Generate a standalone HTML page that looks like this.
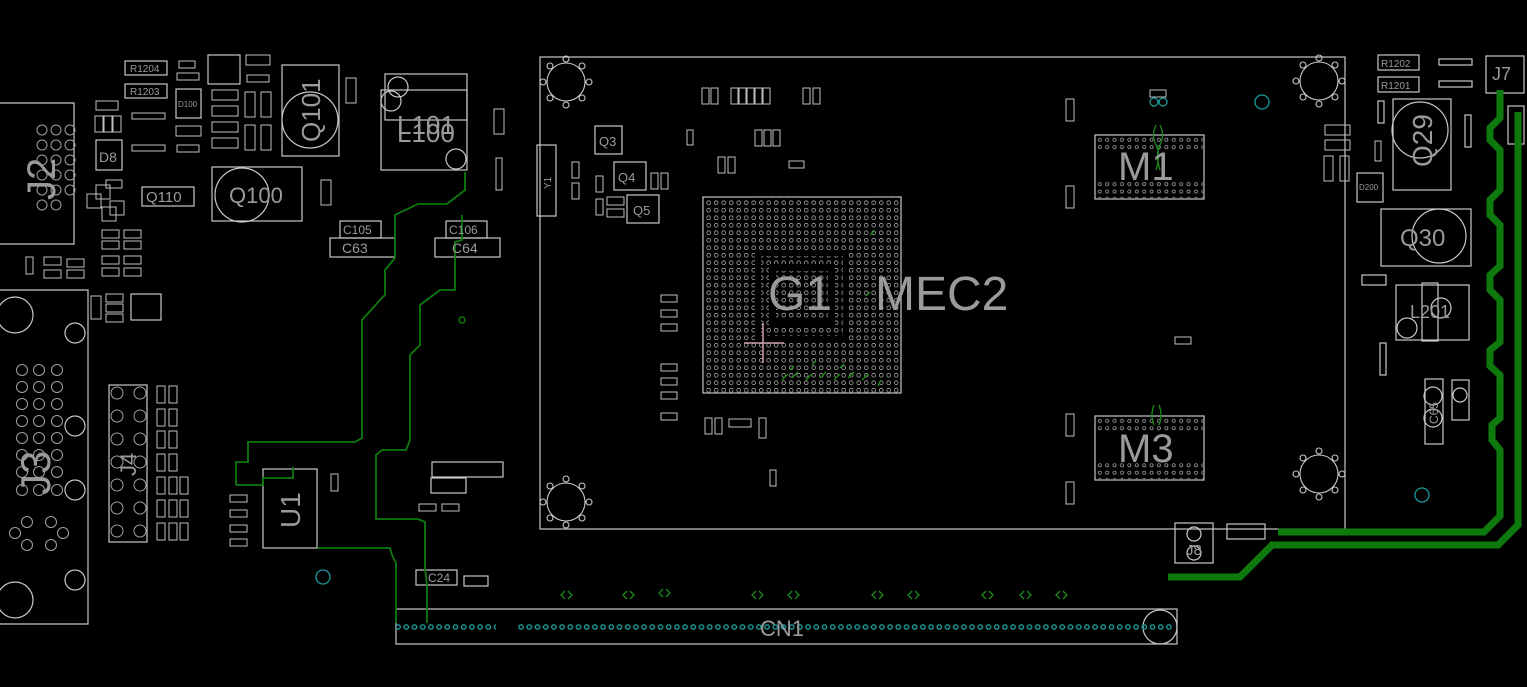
<!DOCTYPE html>
<html><head><meta charset="utf-8"><style>
html,body{margin:0;padding:0;background:#000;}
svg{display:block;}
text{font-family:"Liberation Sans",sans-serif;fill:#9a9a9a;}
</style></head><body>
<svg width="1527" height="687" viewBox="0 0 1527 687" xmlns="http://www.w3.org/2000/svg">
<defs>
<pattern id="bga" x="705" y="199" width="7.5" height="7.5" patternUnits="userSpaceOnUse">
<circle cx="3.7" cy="3.7" r="1.9" fill="none" stroke="#a0a0a0" stroke-width="0.8"/></pattern>
<pattern id="mg" x="1096" y="136" width="7.4" height="7.4" patternUnits="userSpaceOnUse">
<circle cx="3.7" cy="3.7" r="1.6" fill="none" stroke="#a0a0a0" stroke-width="0.8"/></pattern>
<pattern id="cn" x="394" y="623" width="8.2" height="8" patternUnits="userSpaceOnUse">
<circle cx="4.1" cy="4" r="2.2" fill="none" stroke="#1a9a9a" stroke-width="1.4"/></pattern>
<g id="hole" fill="none" stroke="#c8c8c8" stroke-width="1.1">
<circle cx="0" cy="0" r="19"/>
<circle cx="0" cy="-23" r="3"/><circle cx="0" cy="23" r="3"/><circle cx="-23" cy="0" r="3"/><circle cx="23" cy="0" r="3"/>
<circle cx="16" cy="16" r="3"/><circle cx="-16" cy="16" r="3"/><circle cx="16" cy="-16" r="3"/><circle cx="-16" cy="-16" r="3"/>
</g>
</defs>
<rect width="1527" height="687" fill="#000"/>
<g fill="none" stroke="#c8c8c8" stroke-width="1.2">
<rect x="540" y="57" width="805" height="472"/>
<rect x="703" y="197" width="198" height="196"/>
<rect x="1095" y="135" width="109" height="64"/>
<rect x="1095" y="416" width="109" height="64"/>
<polyline points="0,103 74,103 74,244 0,244"/>
<polyline points="0,290 88,290 88,624 0,624"/>
<rect x="109" y="385" width="38" height="157"/>
<rect x="263" y="469" width="54" height="79"/>
<rect x="212" y="167" width="90" height="54"/>
<rect x="282" y="65" width="57" height="91"/>
<rect x="385" y="74" width="82" height="46"/>
<rect x="381" y="90" width="86" height="80"/>
<rect x="142" y="187" width="52" height="19"/>
<rect x="96" y="140" width="26" height="30"/>
<rect x="125" y="61" width="42" height="14"/><rect x="125" y="84" width="42" height="14"/>
<rect x="208" y="55" width="32" height="29"/>
<rect x="176" y="89" width="25" height="29"/>
<rect x="340" y="221" width="41" height="17"/><rect x="330" y="238" width="65" height="19"/>
<rect x="446" y="221" width="41" height="17"/><rect x="435" y="238" width="65" height="19"/>
<rect x="432" y="462" width="71" height="15"/><rect x="431" y="478" width="35" height="15"/>
<rect x="416" y="570" width="41" height="15"/><rect x="464" y="576" width="24" height="10"/>
<rect x="131" y="294" width="30" height="26"/>
<rect x="396" y="609" width="781" height="35"/>
<rect x="537" y="145" width="19" height="71"/>
<rect x="595" y="126" width="27" height="28"/>
<rect x="614" y="162" width="32" height="28"/>
<rect x="627" y="195" width="32" height="28"/>
<rect x="1378" y="55" width="41" height="15"/><rect x="1378" y="77" width="41" height="15"/>
<rect x="1439" y="59" width="33" height="6"/><rect x="1439" y="81" width="33" height="6"/>
<rect x="1486" y="56" width="38" height="37"/>
<rect x="1393" y="99" width="58" height="91"/>
<rect x="1508" y="106" width="16" height="38"/>
<rect x="1357" y="173" width="26" height="29"/>
<rect x="1381" y="209" width="90" height="57"/>
<rect x="1396" y="285" width="73" height="55"/><rect x="1422" y="283" width="16" height="58"/>
<rect x="1425" y="379" width="18" height="65"/><rect x="1452" y="380" width="17" height="40"/>
<rect x="1175" y="523" width="38" height="40"/><rect x="1227" y="524" width="38" height="15"/>
<rect x="1362" y="275" width="24" height="10"/>
<rect x="1465" y="115" width="6" height="32"/><rect x="1378" y="101" width="6" height="22"/>
<rect x="1380" y="343" width="6" height="32"/>
<circle cx="310" cy="120" r="28"/><circle cx="242" cy="195" r="27"/>
<circle cx="1420" cy="130" r="28"/><circle cx="1439" cy="236" r="27"/>
<circle cx="398" cy="87" r="10"/><circle cx="391" cy="101" r="10"/><circle cx="456" cy="159" r="10"/>
<circle cx="15" cy="315" r="18"/><circle cx="75" cy="333" r="10"/><circle cx="75" cy="426" r="10"/><circle cx="75" cy="490" r="10"/><circle cx="75" cy="580" r="10"/><circle cx="15" cy="600" r="18"/>
<circle cx="1441" cy="308" r="10"/><circle cx="1407" cy="328" r="10"/>
<circle cx="1160" cy="627" r="17"/>
<circle cx="1433" cy="418" r="9"/><circle cx="1433" cy="396" r="9"/><circle cx="1460" cy="395" r="7"/>
<circle cx="1194" cy="534" r="7"/><circle cx="1194" cy="553" r="7"/>
</g>
<use href="#hole" x="566" y="82"/><use href="#hole" x="1319" y="81"/>
<use href="#hole" x="566" y="502"/><use href="#hole" x="1319" y="474"/>
<rect x="703" y="197" width="198" height="196" fill="url(#bga)"/>
<rect x="755" y="251" width="93" height="90" fill="#000"/>
<rect x="761" y="256" width="82" height="80" fill="url(#bga)"/>
<rect x="769" y="264" width="66" height="64" fill="#000"/>
<rect x="776" y="271" width="52" height="49" fill="url(#bga)"/>
<rect x="1096" y="136" width="107" height="16" fill="url(#mg)"/>
<rect x="1096" y="181" width="107" height="17" fill="url(#mg)"/>
<rect x="1096" y="417" width="107" height="16" fill="url(#mg)"/>
<rect x="1096" y="462" width="107" height="17" fill="url(#mg)"/>
<rect x="396" y="623" width="100" height="8" fill="url(#cn)"/>
<rect x="516" y="623" width="658" height="8" fill="url(#cn)"/>
<g fill="none" stroke="#a0a0a0" stroke-width="1">
<circle cx="42" cy="130" r="5"/><circle cx="56" cy="130" r="5"/><circle cx="70" cy="130" r="5"/>
<circle cx="42" cy="145" r="5"/><circle cx="56" cy="145" r="5"/><circle cx="70" cy="145" r="5"/>
<circle cx="42" cy="160" r="5"/><circle cx="56" cy="160" r="5"/><circle cx="70" cy="160" r="5"/>
<circle cx="42" cy="175" r="5"/><circle cx="56" cy="175" r="5"/><circle cx="70" cy="175" r="5"/>
<circle cx="42" cy="190" r="5"/><circle cx="56" cy="190" r="5"/><circle cx="70" cy="190" r="5"/>
<circle cx="42" cy="205" r="5"/><circle cx="56" cy="205" r="5"/>
<circle cx="22" cy="370" r="5.5"/><circle cx="39" cy="370" r="5.5"/><circle cx="57" cy="370" r="5.5"/>
<circle cx="22" cy="387" r="5.5"/><circle cx="39" cy="387" r="5.5"/><circle cx="57" cy="387" r="5.5"/>
<circle cx="22" cy="404" r="5.5"/><circle cx="39" cy="404" r="5.5"/><circle cx="57" cy="404" r="5.5"/>
<circle cx="22" cy="421" r="5.5"/><circle cx="39" cy="421" r="5.5"/><circle cx="57" cy="421" r="5.5"/>
<circle cx="22" cy="438" r="5.5"/><circle cx="39" cy="438" r="5.5"/><circle cx="57" cy="438" r="5.5"/>
<circle cx="22" cy="455" r="5.5"/><circle cx="39" cy="455" r="5.5"/><circle cx="57" cy="455" r="5.5"/>
<circle cx="22" cy="472" r="5.5"/><circle cx="39" cy="472" r="5.5"/><circle cx="57" cy="472" r="5.5"/>
<circle cx="22" cy="490" r="5.5"/><circle cx="39" cy="490" r="5.5"/><circle cx="57" cy="490" r="5.5"/>
<circle cx="27" cy="522" r="5.5"/><circle cx="51" cy="522" r="5.5"/><circle cx="15" cy="533" r="5.5"/><circle cx="63" cy="533" r="5.5"/><circle cx="27" cy="545" r="5.5"/><circle cx="51" cy="545" r="5.5"/>
<circle cx="117" cy="393" r="6"/><circle cx="140" cy="393" r="6"/><circle cx="117" cy="416" r="6"/><circle cx="140" cy="416" r="6"/>
<circle cx="117" cy="439" r="6"/><circle cx="140" cy="439" r="6"/><circle cx="117" cy="462" r="6"/><circle cx="140" cy="462" r="6"/>
<circle cx="117" cy="485" r="6"/><circle cx="140" cy="485" r="6"/><circle cx="117" cy="508" r="6"/><circle cx="140" cy="508" r="6"/>
<circle cx="117" cy="531" r="6"/><circle cx="140" cy="531" r="6"/>
</g>
<g fill="none" stroke="#c0c0c0" stroke-width="1">
<rect x="179" y="61" width="16" height="7"/><rect x="177" y="73" width="22" height="7"/>
<rect x="246" y="55" width="24" height="10"/><rect x="247" y="75" width="22" height="7"/>
<rect x="96" y="101" width="22" height="9"/><rect x="95" y="116" width="8" height="16"/><rect x="104" y="116" width="8" height="16"/><rect x="113" y="116" width="8" height="16"/>
<rect x="132" y="113" width="33" height="6"/><rect x="132" y="145" width="33" height="6"/>
<rect x="176" y="126" width="25" height="10"/><rect x="177" y="145" width="22" height="7"/>
<rect x="212" y="90" width="26" height="10"/><rect x="212" y="106" width="26" height="10"/><rect x="212" y="122" width="26" height="10"/><rect x="212" y="138" width="26" height="10"/>
<rect x="245" y="92" width="10" height="25"/><rect x="261" y="92" width="10" height="25"/><rect x="245" y="125" width="10" height="25"/><rect x="261" y="125" width="10" height="25"/>
<rect x="346" y="78" width="10" height="25"/><rect x="321" y="180" width="10" height="25"/><rect x="494" y="109" width="10" height="25"/><rect x="496" y="158" width="6" height="32"/>
<rect x="106" y="180" width="16" height="8"/><rect x="96" y="185" width="14" height="14"/><rect x="87" y="194" width="14" height="14"/><rect x="110" y="201" width="14" height="14"/><rect x="102" y="207" width="14" height="14"/>
<rect x="102" y="230" width="17" height="8"/><rect x="124" y="230" width="17" height="8"/><rect x="102" y="241" width="17" height="8"/><rect x="124" y="241" width="17" height="8"/>
<rect x="102" y="256" width="17" height="8"/><rect x="124" y="256" width="17" height="8"/><rect x="102" y="268" width="17" height="8"/><rect x="124" y="268" width="17" height="8"/>
<rect x="26" y="257" width="7" height="17"/><rect x="44" y="257" width="17" height="8"/><rect x="67" y="259" width="17" height="8"/><rect x="44" y="270" width="17" height="8"/><rect x="67" y="270" width="17" height="8"/>
<rect x="91" y="296" width="10" height="23"/><rect x="106" y="294" width="17" height="8"/><rect x="106" y="304" width="17" height="8"/><rect x="106" y="314" width="17" height="8"/>
<rect x="157" y="386" width="8" height="17"/><rect x="169" y="386" width="8" height="17"/><rect x="157" y="409" width="8" height="17"/><rect x="169" y="409" width="8" height="17"/>
<rect x="157" y="431" width="8" height="17"/><rect x="169" y="431" width="8" height="17"/><rect x="157" y="454" width="8" height="17"/><rect x="169" y="454" width="8" height="17"/>
<rect x="157" y="477" width="8" height="17"/><rect x="169" y="477" width="8" height="17"/><rect x="180" y="477" width="8" height="17"/>
<rect x="157" y="500" width="8" height="17"/><rect x="169" y="500" width="8" height="17"/><rect x="180" y="500" width="8" height="17"/>
<rect x="157" y="523" width="8" height="17"/><rect x="169" y="523" width="8" height="17"/><rect x="180" y="523" width="8" height="17"/>
<rect x="230" y="495" width="17" height="7"/><rect x="230" y="510" width="17" height="7"/><rect x="230" y="525" width="17" height="7"/><rect x="230" y="539" width="17" height="7"/>
<rect x="331" y="474" width="7" height="17"/><rect x="419" y="504" width="17" height="7"/><rect x="442" y="504" width="17" height="7"/>
<rect x="702" y="88" width="7" height="16"/><rect x="711" y="88" width="7" height="16"/><rect x="731" y="88" width="7" height="16"/><rect x="739" y="88" width="7" height="16"/><rect x="747" y="88" width="7" height="16"/><rect x="755" y="88" width="7" height="16"/><rect x="763" y="88" width="7" height="16"/>
<rect x="803" y="88" width="7" height="16"/><rect x="813" y="88" width="7" height="16"/>
<rect x="687" y="130" width="6" height="15"/><rect x="755" y="130" width="7" height="16"/><rect x="764" y="130" width="7" height="16"/><rect x="773" y="130" width="7" height="16"/>
<rect x="718" y="157" width="7" height="16"/><rect x="728" y="157" width="7" height="16"/><rect x="789" y="161" width="15" height="7"/>
<rect x="572" y="162" width="7" height="16"/><rect x="572" y="183" width="7" height="16"/><rect x="596" y="176" width="7" height="16"/><rect x="596" y="199" width="7" height="16"/>
<rect x="607" y="197" width="17" height="8"/><rect x="607" y="209" width="17" height="8"/><rect x="651" y="173" width="7" height="16"/><rect x="661" y="173" width="7" height="16"/>
<rect x="661" y="295" width="16" height="7"/><rect x="661" y="310" width="16" height="7"/><rect x="661" y="324" width="16" height="7"/>
<rect x="661" y="364" width="16" height="7"/><rect x="661" y="378" width="16" height="7"/><rect x="661" y="392" width="16" height="7"/><rect x="661" y="413" width="16" height="7"/>
<rect x="705" y="418" width="7" height="16"/><rect x="715" y="418" width="7" height="16"/><rect x="729" y="419" width="22" height="8"/><rect x="759" y="418" width="7" height="20"/>
<rect x="770" y="470" width="6" height="16"/>
<rect x="1066" y="99" width="8" height="22"/><rect x="1066" y="186" width="8" height="22"/><rect x="1066" y="414" width="8" height="22"/><rect x="1066" y="482" width="8" height="22"/>
<rect x="1150" y="90" width="16" height="7"/><rect x="1175" y="337" width="16" height="7"/>
<rect x="1325" y="125" width="25" height="10"/><rect x="1325" y="140" width="25" height="10"/><rect x="1324" y="156" width="9" height="25"/><rect x="1340" y="156" width="9" height="25"/>
<rect x="1375" y="141" width="6" height="20"/>
</g>
<g fill="none" stroke="#1a9a9a" stroke-width="1.3">
<circle cx="1262" cy="102" r="7"/><circle cx="1422" cy="495" r="7"/><circle cx="323" cy="577" r="7"/>
<circle cx="1154" cy="102" r="4"/><circle cx="1163" cy="102" r="4"/>
</g>
<g fill="none" stroke="#0e7a0e" stroke-width="1.8">
<polyline points="236,485 236,462 248,462 248,442 355,442 362,438 362,320 380,300 385,295 385,270 395,258 395,215 418,204 447,204 465,190 465,172"/>
<polyline points="236,485 263,485 263,478 293,478 293,467"/>
<polyline points="317,548 390,548 392,555 396,563 396,623"/>
<polyline points="427,623 427,585 425,568 425,522 418,519 376,519 376,455 382,450 406,450 410,440 410,405 410,355 420,345 420,305 440,290 455,290 455,242 462,240 462,215"/>
</g>
<circle cx="462" cy="320" r="3" fill="none" stroke="#0e7a0e" stroke-width="1.5"/>
<g fill="none" stroke="#0e7a0e" stroke-width="7">
<polyline points="1278,532 1484,532 1500,516 1500,450 1492,440 1492,425 1500,418 1500,375 1490,366 1490,350 1500,342 1500,300 1490,290 1490,275 1500,266 1500,225 1490,215 1490,200 1500,190 1500,150 1490,140 1490,128 1500,118 1500,90"/>
<polyline points="1168,577 1240,577 1272,545 1498,545 1518,525 1518,112"/>
</g>
<g fill="none" stroke="#1a8a1a" stroke-width="1.3">
<path d="M782,380 l6,-6 M792,378 l6,-6 M806,380 l6,-6 M820,378 l6,-6 M834,380 l6,-6 M848,378 l6,-6 M862,380 l6,-6 M878,386 l3,-6 M790,370 l4,-4 M812,365 l4,-4 M840,368 l4,-4 M870,235 l4,-4 M866,296 l4,-4"/>
<path d="M565,591 l-4,4 l4,4 M568,591 l4,4 l-4,4 M627,591 l-4,4 l4,4 M630,591 l4,4 l-4,4 M663,589 l-4,4 l4,4 M666,589 l4,4 l-4,4 M756,591 l-4,4 l4,4 M759,591 l4,4 l-4,4 M792,591 l-4,4 l4,4 M795,591 l4,4 l-4,4 M876,591 l-4,4 l4,4 M879,591 l4,4 l-4,4 M912,591 l-4,4 l4,4 M915,591 l4,4 l-4,4 M986,591 l-4,4 l4,4 M989,591 l4,4 l-4,4 M1024,591 l-4,4 l4,4 M1027,591 l4,4 l-4,4 M1060,591 l-4,4 l4,4 M1063,591 l4,4 l-4,4"/>
<path d="M1156,125 q-5,10 0,20 q5,10 0,25 M1160,125 q5,10 0,20 q-5,10 0,25 M1154,405 q-4,10 0,20 M1159,405 q4,10 0,20"/>
</g>
<g stroke="#c8a0a8" stroke-width="1.5"><line x1="744" y1="343" x2="784" y2="343"/><line x1="763" y1="323" x2="763" y2="363"/></g>
<text x="768" y="310" font-size="48">G1</text>
<text x="875" y="310" font-size="48">MEC2</text>
<text x="1118" y="180" font-size="40">M1</text>
<text x="1118" y="462" font-size="40">M3</text>
<text x="760" y="636" font-size="22">CN1</text>
<text x="229" y="203" font-size="22">Q100</text>
<text x="146" y="202" font-size="15">Q110</text>
<text x="397" y="134" font-size="26">L101</text>
<text x="397" y="142" font-size="26">L100</text>
<text x="1400" y="246" font-size="24">Q30</text>
<text x="1410" y="318" font-size="18">L201</text>
<text x="99" y="162" font-size="14">D8</text>
<text x="130" y="72" font-size="10">R1204</text>
<text x="130" y="95" font-size="10">R1203</text>
<text x="1381" y="67" font-size="10">R1202</text>
<text x="1381" y="89" font-size="10">R1201</text>
<text x="178" y="107" font-size="8">D100</text>
<text x="1359" y="190" font-size="8">D200</text>
<text x="343" y="234" font-size="12">C105</text>
<text x="342" y="253" font-size="14">C63</text>
<text x="449" y="234" font-size="12">C106</text>
<text x="452" y="253" font-size="14">C64</text>
<text x="599" y="146" font-size="13">Q3</text>
<text x="618" y="182" font-size="13">Q4</text>
<text x="633" y="215" font-size="13">Q5</text>
<text x="428" y="582" font-size="12">C24</text>
<text x="1186" y="555" font-size="15">J8</text>
<text x="1492" y="80" font-size="18">J7</text>
<text transform="translate(320,112) rotate(-90)" x="-30" y="0" font-size="26">Q101</text>
<text transform="translate(1432,145) rotate(-90)" x="-22" y="0" font-size="28">Q29</text>
<text transform="translate(55,175) rotate(-90)" x="-25" y="0" font-size="40">J2</text>
<text transform="translate(50,465) rotate(-90)" x="-30" y="0" font-size="42">J3</text>
<text transform="translate(136,462) rotate(-90)" x="-14" y="0" font-size="22">J4</text>
<text transform="translate(300,510) rotate(-90)" x="-18" y="0" font-size="28">U1</text>
<text transform="translate(1438,412) rotate(-90)" x="-12" y="0" font-size="12">C65</text>
<text transform="translate(551,181) rotate(-90)" x="-8" y="0" font-size="10">Y1</text>
</svg>
</body></html>
